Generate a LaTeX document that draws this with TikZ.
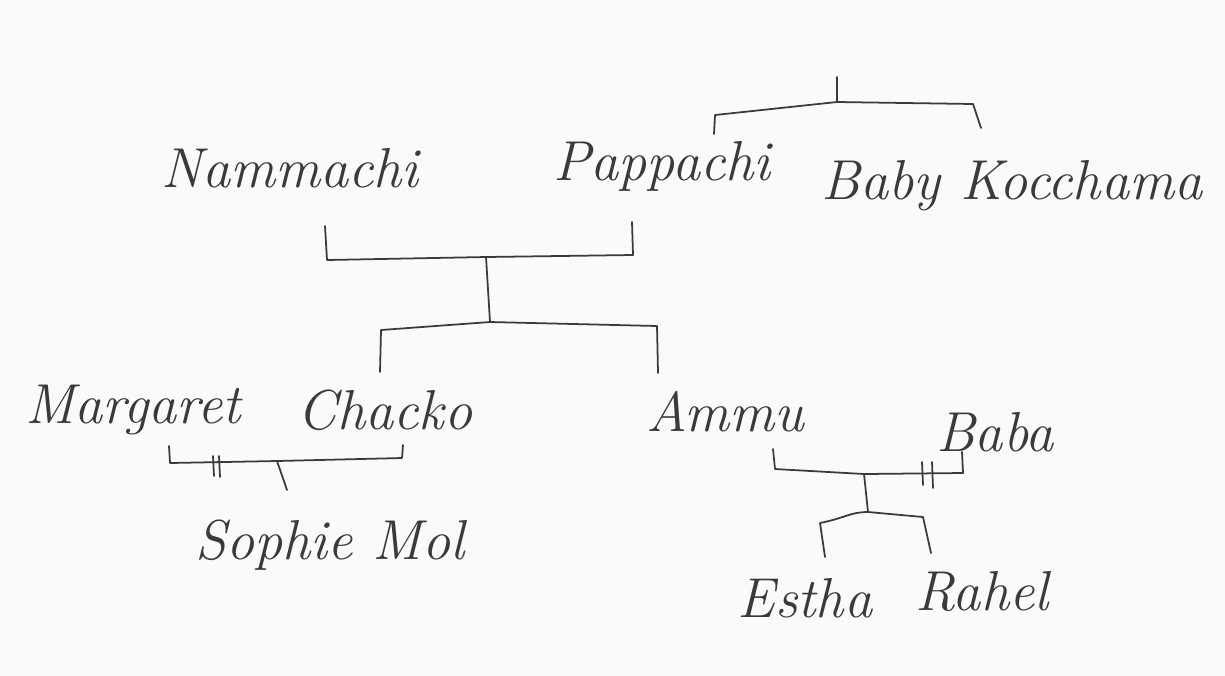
\documentclass[tikz,border=0pt]{standalone}
\usetikzlibrary{positioning}
\definecolor{paper}{HTML}{FAFAF8}
\definecolor{ink}{HTML}{3A3A3A}

\begin{document}
\begin{tikzpicture}[x=0.01cm,y=-0.01cm,
				person/.style={font=\fontsize{16}{19}\selectfont\itshape,text=ink,inner sep=1pt},
				link/.style={draw=ink,line width=0.5pt,line cap=round,line join=round},
				cut/.style={link}
				]
				\fill[paper] (0,0) rectangle (1225,675);
				\useasboundingbox (0,0) rectangle (1225,675);
				
				% names
				\node[person] (nam) at (290,168) {Nammachi};
				\node[person] (pap) at (662,166) {Pappachi};
				\node[person] (baby) at (1012,186) {Baby Kocchama};
				\node[person] (mar) at (133,410) {Margaret};
				\node[person] (cha) at (385,410) {Chacko};
				\node[person] (amm) at (725,412) {Ammu};
				\node[person] (bab) at (995,432) {Baba};
				\node[person] (sop) at (330,545) {Sophie Mol};
				\node[person] (est) at (805,598) {Estha};
				\node[person] (rah) at (982,592) {Rahel};
				
				% top branch: Pappachi and Baby Kocchama
				\coordinate (t0) at (837,77);
				\coordinate (t1) at (837,102);
				\coordinate (tl) at (715,115);
				\coordinate (tlb) at (714,134);
				\coordinate (tr) at (973,104);
				\coordinate (trb) at (981,128);
				\draw[link] (t0) -- (t1);
				\draw[link] (tlb) -- (tl) -- (t1) -- (tr) -- (trb);
				
				% Nammachi + Pappachi
				\coordinate (np1) at (325,226);
				\coordinate (np2) at (327,260);
				\coordinate (np3) at (486,257);
				\coordinate (np4) at (633,255);
				\coordinate (np5) at (632,222);
				\draw[link] (np1) -- (np2) -- (np3) -- (np4) -- (np5);
				\coordinate (k0) at (490,322);
				\draw[link] (np3) -- (k0);
				\coordinate (k1) at (380,372);
				\coordinate (k2) at (381,330);
				\coordinate (k3) at (657,326);
				\coordinate (k4) at (658,373);
				\draw[link] (k1) -- (k2) -- (k0) -- (k3) -- (k4);
				
				% Margaret + Chacko
				\coordinate (mc1) at (169,446);
				\coordinate (mc2) at (170,463);
				\coordinate (mc3) at (277,461);
				\coordinate (mc4) at (402,458);
				\coordinate (mc5) at (403,445);
				\draw[link] (mc1) -- (mc2) -- (mc3) -- (mc4) -- (mc5);
				\draw[cut] (213,456) -- (214,476);
				\draw[cut] (219,456) -- (220,477);
				\coordinate (mc6) at (287,490);
				\draw[link] (mc3) -- (mc6);
				
				% Ammu + Baba
				\coordinate (ab1) at (773,449);
				\coordinate (ab2) at (775,469);
				\coordinate (ab3) at (864,474);
				\coordinate (ab4) at (963,473);
				\coordinate (ab5) at (962,452);
				\draw[link] (ab1) -- (ab2) -- (ab3) -- (ab4) -- (ab5);
				\draw[cut] (922,462) -- (923,485);
				\draw[cut] (932,462) -- (933,488);
				\coordinate (ab6) at (868,512);
				\draw[link] (ab3) -- (ab6);
				\coordinate (c1) at (825,557);
				\coordinate (c2) at (820,523);
				\coordinate (c3) at (923,517);
				\coordinate (c4) at (931,553);
				\draw[link] (c1) -- (c2) .. controls (845,518) and (850,512) .. (ab6) -- (c3) -- (c4);
			\end{tikzpicture}
\end{document}
